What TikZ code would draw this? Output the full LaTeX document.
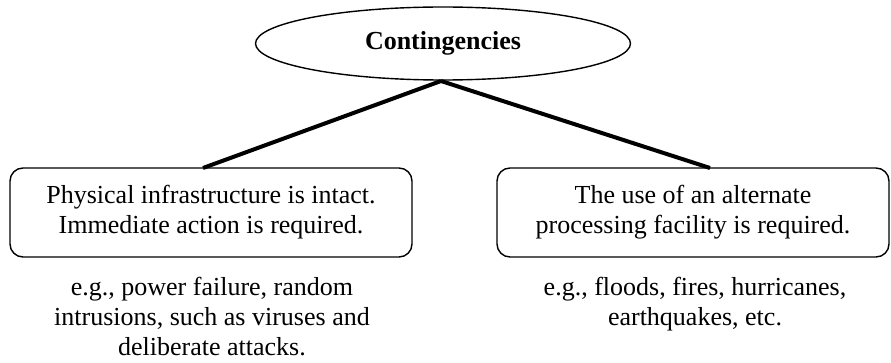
\documentclass[tikz,border=0pt]{standalone}
\usepackage{fontspec}
\setmainfont{Liberation Serif}
\usetikzlibrary{shapes.geometric}
\begin{document}
\begin{tikzpicture}[x=1pt,y=1pt,
  txt/.style={font=\fontsize{26}{30}\selectfont, align=center, inner sep=0pt},
  ovalbox/.style={ellipse, draw, line width=1.4pt, inner sep=0pt, minimum width=375pt, minimum height=73pt, font=\fontsize{26}{30}\selectfont\bfseries},
  casebox/.style={txt, draw, line width=1.4pt, rounded corners=13pt, minimum height=89pt},
  link/.style={line width=4pt}
]
\useasboundingbox (0,0) rectangle (891,362);
\node[ovalbox] (top) at (443,318.5) {Contingencies};
\node[casebox, minimum width=402pt] (lbox) at (211,149.5) {Physical infrastructure is intact.\\Immediate action is required.};
\node[casebox, minimum width=392pt] (rbox) at (693,149.5) {The use of an alternate\\processing facility is required.};
\node[txt, anchor=north] (lnote) at (212,85) {e.g., power failure, random\\intrusions, such as viruses and\\deliberate attacks.};
\node[txt, anchor=north] (rnote) at (695,85) {e.g., floods, fires, hurricanes,\\earthquakes, etc.};
\coordinate (lt) at (203,194);
\coordinate (rt) at (710,194);
\coordinate (apex) at (441,281);
\draw[link] (apex) -- (lt);
\draw[link] (apex) -- (rt);
\end{tikzpicture}
\end{document}
